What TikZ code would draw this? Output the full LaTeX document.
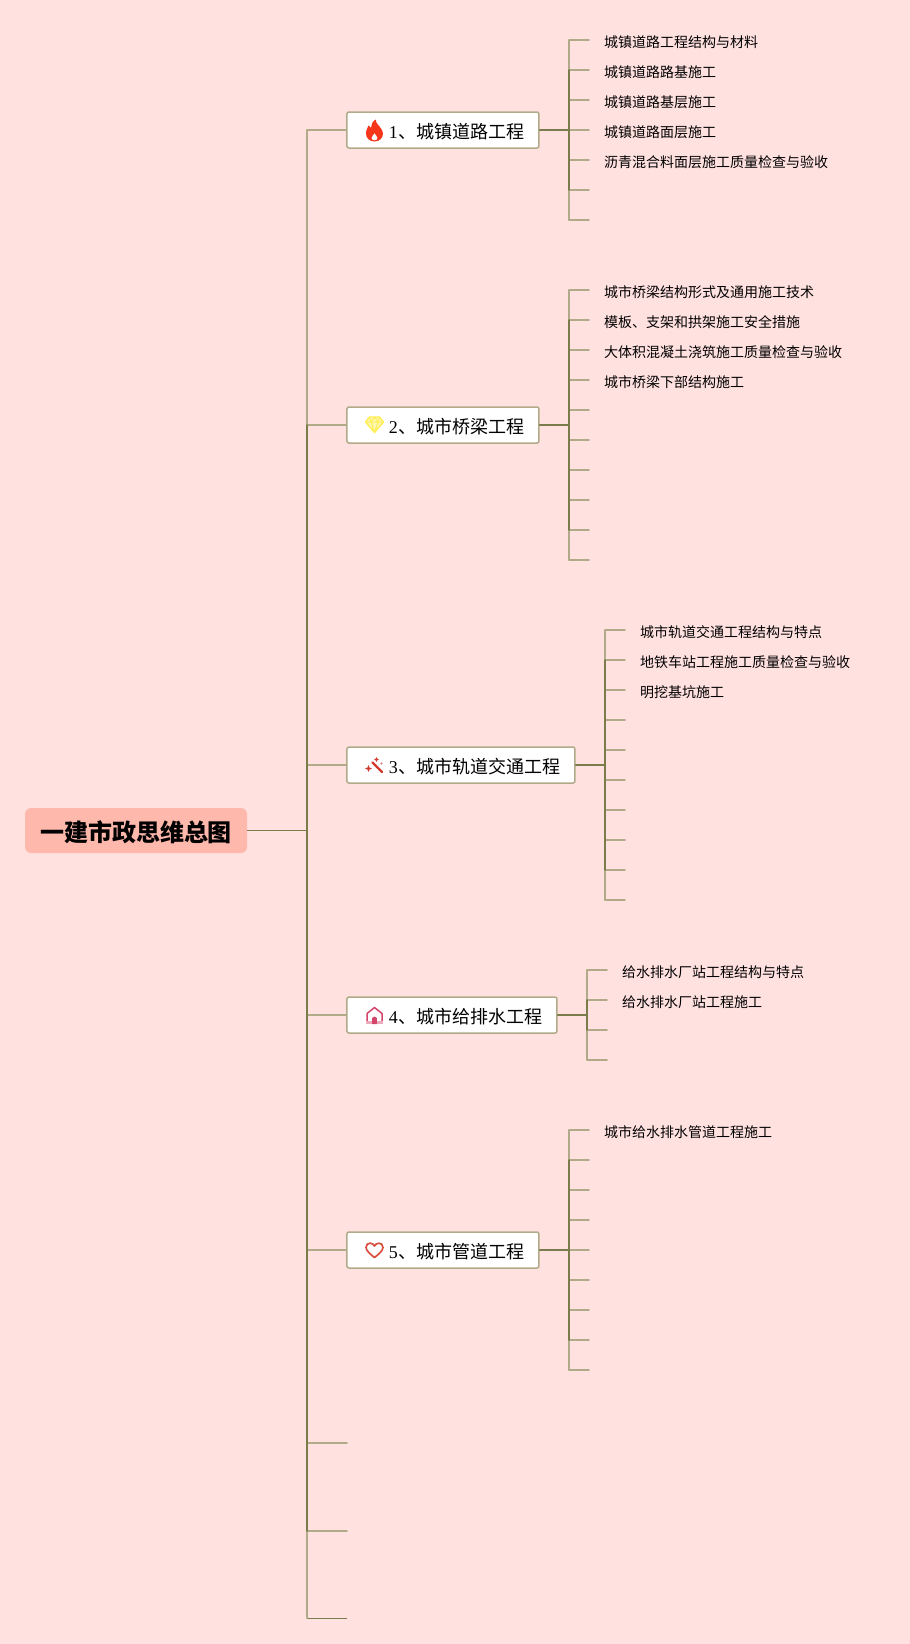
\documentclass[tikz,border=0pt]{standalone}
\usepackage{fontspec}
\setmainfont{Liberation Serif}
\newfontfamily\cjk{Noto Sans CJK SC}
\definecolor{bgpink}{HTML}{FFE1E0}
\definecolor{rootfill}{HTML}{FFB9AC}
\definecolor{lightln}{HTML}{B0AA88}
\definecolor{darkln}{HTML}{7A7D4B}
\definecolor{flame}{HTML}{F5361A}
\definecolor{gem}{HTML}{FFEE55}
\definecolor{wand}{HTML}{D23A2E}
\definecolor{house}{HTML}{D5456B}
\definecolor{heart}{HTML}{D9503F}
\tikzset{
  x=1pt,y=-1pt,
  lightseg/.style={draw=lightln,line width=1.5pt,line cap=round},
  darkseg/.style={draw=darkln,line width=1.8pt,line cap=round},
  thinseg/.style={draw=darkln,line width=1pt},
  rootbox/.style={fill=rootfill,rounded corners=6pt,inner sep=0pt,minimum width=222pt,minimum height=45pt,font=\cjk\bfseries\fontsize{24}{24}\selectfont},
  topbox/.style={draw=lightln,fill=white,line width=1.5pt,rounded corners=2pt,inner sep=0pt,minimum height=36pt,anchor=west,font=\fontsize{18}{18}\selectfont},
  leaftext/.style={inner sep=0pt,anchor=west,font=\cjk\fontsize{14}{14}\selectfont},
}
% \topic{name}{y}{width}{digit}{text}
\newcommand\topic[5]{%
  \node[topbox] (#1) at (346.2,#2) {\makebox[#3pt][l]{\hspace{42pt}\raisebox{-8.3pt}[0pt][0pt]{#4\hspace{1pt}{\cjk 、#5}}}};%
}
% \fan{prefix}{x of spine}{first y}{count}{hub node}
\newcommand\fan[5]{%
  \coordinate (#1-top) at (#2,0);%
  \coordinate (#1-hub) at (#1-top |- #5.east);%
  \foreach \i in {1,...,#4}{%
    \coordinate (#1-\i) at ({#2+20},{#3+(\i-1)*30});%
    \coordinate (#1-s\i) at (#2,{#3+(\i-1)*30});%
    \draw[lightseg] (#1-s\i) -- (#1-\i);%
  }%
  \pgfmathtruncatemacro\lastm{#4-1}%
  \draw[lightseg] (#1-s1) -- (#1-s2);%
  \draw[lightseg] (#1-s\lastm) -- (#1-s#4);%
  \draw[darkseg] (#1-s2) -- (#1-s\lastm);%
  \draw[darkseg] (#5.east) -- (#1-hub);%
}
\newcommand\leaf[5]{\node[leaftext] (#1-t#2) at ({#3+35},#4) {\raisebox{-7pt}[0pt][0pt]{#5}};}
\begin{document}
\begin{tikzpicture}
\useasboundingbox (0,0) rectangle (910,1644);
\fill[bgpink] (0,0) rectangle (910,1644);

% root and topics
\node[rootbox] (root) at (136,830.5) {\raisebox{-10.6pt}[0pt][0pt]{一建市政思维总图}};
\topic{t1}{130}{192}{1}{城镇道路工程}
\topic{t2}{425}{192}{2}{城市桥梁工程}
\topic{t3}{765}{228}{3}{城市轨道交通工程}
\topic{t4}{1015}{210}{4}{城市给排水工程}
\topic{t5}{1250}{192}{5}{城市管道工程}
\coordinate (t6) at (347,1443);
\coordinate (t7) at (347,1531);
\coordinate (t8) at (347,1618);

% trunk
\coordinate (tr0) at (307,830);
\coordinate (tr1) at (307,130);
\coordinate (tr2) at (307,425);
\coordinate (tr3) at (307,765);
\coordinate (tr4) at (307,1015);
\coordinate (tr5) at (307,1250);
\coordinate (tr6) at (307,1443);
\coordinate (tr7) at (307,1531);
\coordinate (tr8) at (307,1618);
\draw[thinseg] (root.east |- tr0) -- (tr0);
\foreach \k in {1,2,3,4,5,6,7}{\draw[lightseg] (tr\k) -- (t\k);}
\draw[thinseg] (tr8) -- (t8);
\draw[lightseg] (tr1) -- (tr2);
\draw[lightseg] (tr7) -- (tr8);
\draw[darkseg] (tr2) -- (tr7);

% fans
\fan{a}{569}{40}{7}{t1}
\fan{b}{569}{290}{10}{t2}
\fan{c}{605}{630}{10}{t3}
\fan{d}{587}{970}{4}{t4}
\fan{e}{569}{1130}{9}{t5}

% leaf labels
\leaf{a}{1}{569}{40}{城镇道路工程结构与材料}
\leaf{a}{2}{569}{70}{城镇道路路基施工}
\leaf{a}{3}{569}{100}{城镇道路基层施工}
\leaf{a}{4}{569}{130}{城镇道路面层施工}
\leaf{a}{5}{569}{160}{沥青混合料面层施工质量检查与验收}
\leaf{b}{1}{569}{290}{城市桥梁结构形式及通用施工技术}
\leaf{b}{2}{569}{320}{模板、支架和拱架施工安全措施}
\leaf{b}{3}{569}{350}{大体积混凝土浇筑施工质量检查与验收}
\leaf{b}{4}{569}{380}{城市桥梁下部结构施工}
\leaf{c}{1}{605}{630}{城市轨道交通工程结构与特点}
\leaf{c}{2}{605}{660}{地铁车站工程施工质量检查与验收}
\leaf{c}{3}{605}{690}{明挖基坑施工}
\leaf{d}{1}{587}{970}{给水排水厂站工程结构与特点}
\leaf{d}{2}{587}{1000}{给水排水厂站工程施工}
\leaf{e}{1}{569}{1130}{城市给水排水管道工程施工}

% flame icon
\begin{scope}[shift={(374.5,130.5)}]
\fill[flame,even odd rule] (0,11) .. controls (-5,11) and (-8.5,7.5) .. (-8.5,3)
  .. controls (-8.5,-1) and (-6.5,-3) .. (-6,-5)
  .. controls (-5,-3.5) and (-4.5,-3) .. (-3.5,-2.5)
  .. controls (-3.5,-6) and (-2,-9) .. (1,-11)
  .. controls (1,-8) and (3,-6.5) .. (5,-4)
  .. controls (7,-1.5) and (8.5,0.5) .. (8.5,3)
  .. controls (8.5,7.5) and (5,11) .. (0,11) -- cycle
  (0,10) .. controls (-2,10) and (-3,8.8) .. (-3,7.4)
  .. controls (-3,5.6) and (-0.8,4.5) .. (0,2.5)
  .. controls (0.8,4.5) and (3,5.6) .. (3,7.4)
  .. controls (3,8.8) and (2,10) .. (0,10) -- cycle;
\end{scope}

% gem icon
\begin{scope}[shift={(374.5,424.5)}]
\draw[gem,fill=gem!45!white,line width=1.4pt,line join=round] (-5,-7.5) -- (5,-7.5) -- (9,-2.5) -- (0,8) -- (-9,-2.5) -- cycle;
\draw[gem,line width=1pt,line join=round] (-9,-2.5) -- (9,-2.5) (-5,-7.5) -- (-3.5,-2.5) -- (0,8) -- (3.5,-2.5) -- (5,-7.5) (-3.5,-2.5) -- (0,-7.5) -- (3.5,-2.5);
\end{scope}

% wand icon
\begin{scope}[shift={(374.5,765.5)}]
\draw[wand,line width=2.4pt,line cap=round] (-2,-3) -- (7.5,6.5);
\fill[wand] (-6,-0.5) -- (-5,2) -- (-2.5,3) -- (-5,4) -- (-6,6.5) -- (-7,4) -- (-9.5,3) -- (-7,2) -- cycle;
\fill[wand] (2,-8.5) -- (2.8,-6.8) -- (4.5,-6) -- (2.8,-5.2) -- (2,-3.5) -- (1.2,-5.2) -- (-0.5,-6) -- (1.2,-6.8) -- cycle;
\fill[wand!70!white] (7,-2) circle[radius=1.1];
\end{scope}

% house icon
\begin{scope}[shift={(374.5,1015.5)}]
\draw[house,line width=1.5pt,line join=round] (-7.5,8) -- (-7.5,-2) -- (0,-8) -- (7.5,-2) -- (7.5,8);
\fill[house!45!white] (-8.2,5.5) rectangle (8.2,8.5);
\fill[house] (-2.3,8.5) -- (-2.3,2.5) -- (0,1) -- (2.3,2.5) -- (2.3,8.5) -- cycle;
\end{scope}

% heart icon
\begin{scope}[shift={(374.5,1250)}]
\draw[heart,line width=1.7pt,line join=round] (0,7.5)
  .. controls (-3,5) and (-8.5,1) .. (-8.5,-2.5)
  .. controls (-8.5,-5.5) and (-6.5,-6.8) .. (-4.5,-6.8)
  .. controls (-2.5,-6.8) and (-1,-5.8) .. (0,-4)
  .. controls (1,-5.8) and (2.5,-6.8) .. (4.5,-6.8)
  .. controls (6.5,-6.8) and (8.5,-5.5) .. (8.5,-2.5)
  .. controls (8.5,1) and (3,5) .. (0,7.5) -- cycle;
\end{scope}
\end{tikzpicture}
\end{document}
